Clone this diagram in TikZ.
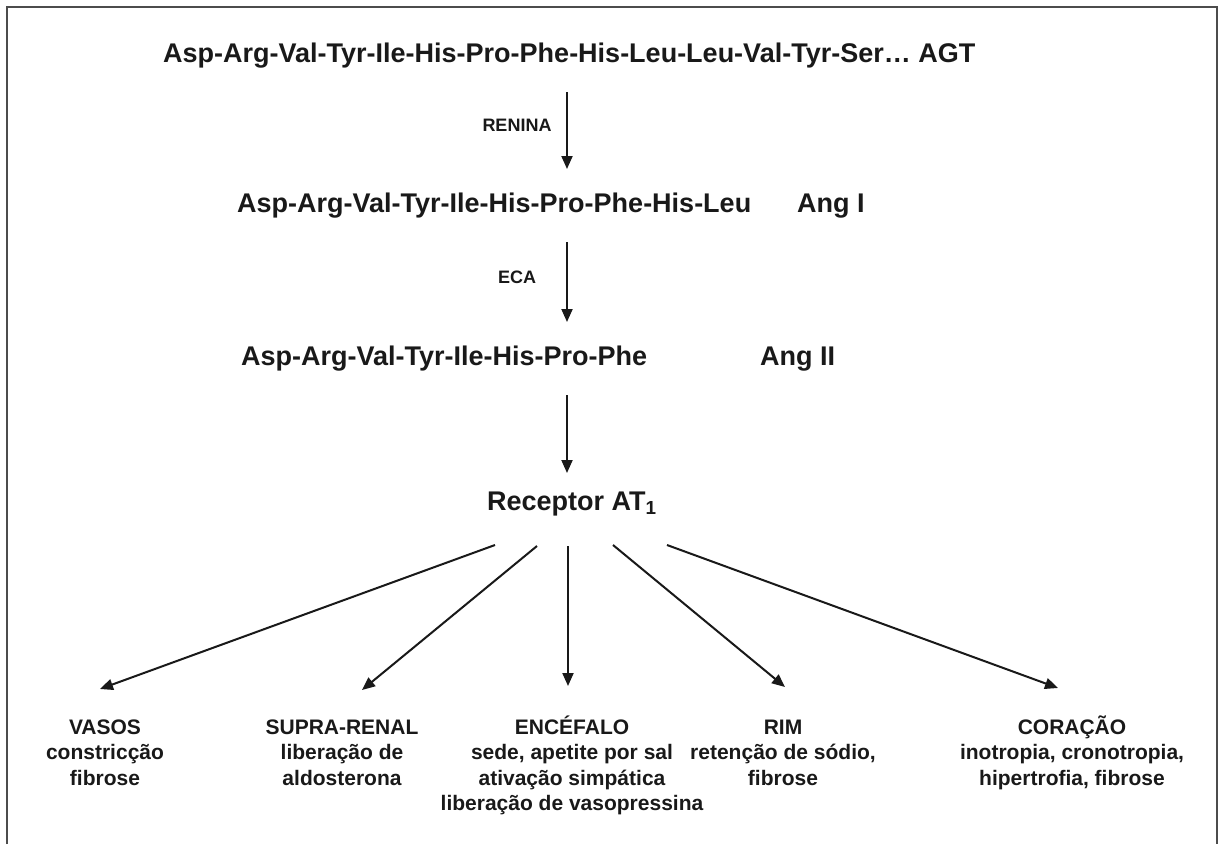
\documentclass[tikz,border=0pt]{standalone}
\usepackage{fontspec}
\setmainfont{Liberation Sans}
\usetikzlibrary{arrows.meta}
\begin{document}
\begin{tikzpicture}[x=1pt,y=-1pt,
  big/.style={font=\fontsize{27}{31}\selectfont\bfseries, inner sep=0pt, anchor=base west, text=black!90},
  enz/.style={font=\fontsize{18}{22}\selectfont\bfseries, inner sep=0pt, text=black!90},
  organ/.style={font=\fontsize{21}{25.5}\selectfont\bfseries, inner sep=0pt, align=center, anchor=base, text=black!90},
  arr/.style={-{Triangle[length=13pt,width=11pt]}, line width=2pt, draw=black!90}]
\useasboundingbox (0,0) rectangle (1219,844);
\draw[line width=2.8pt, draw=black!70] (7,844) -- (7,7) -- (1217,7) -- (1217,844);

\node[big] (agt) at (163,62) {Asp-Arg-Val-Tyr-Ile-His-Pro-Phe-His-Leu-Leu-Val-Tyr-Ser… AGT};
\node[big] (ang1p) at (237,212) {Asp-Arg-Val-Tyr-Ile-His-Pro-Phe-His-Leu};
\node[big] (ang1) at (797,212) {Ang I};
\node[big] (ang2p) at (241,365) {Asp-Arg-Val-Tyr-Ile-His-Pro-Phe};
\node[big] (ang2) at (760,365) {Ang II};
\node[big] (rec) at (487,510) {Receptor AT\textsubscript{1}};

\node[enz] (renina) at (517,125) {RENINA};
\node[enz] (eca) at (517,277) {ECA};

\coordinate (a1s) at (567,92);  \coordinate (a1e) at (567,169);
\coordinate (a2s) at (567,242); \coordinate (a2e) at (567,322);
\coordinate (a3s) at (567,395); \coordinate (a3e) at (567,473);
\draw[arr] (a1s) -- (a1e);
\draw[arr] (a2s) -- (a2e);
\draw[arr] (a3s) -- (a3e);

\coordinate (f1s) at (495,545); \coordinate (f1e) at (100,689);
\coordinate (f2s) at (537,546); \coordinate (f2e) at (362,690);
\coordinate (f3s) at (568,546); \coordinate (f3e) at (568,686);
\coordinate (f4s) at (613,545); \coordinate (f4e) at (785,687);
\coordinate (f5s) at (667,545); \coordinate (f5e) at (1058,688);
\foreach \i in {1,...,5} {\draw[arr] (f\i s) -- (f\i e);}

\node[organ] (vasos) at (105,785) {VASOS\\constricção\\fibrose};
\node[organ] (supra) at (342,785) {SUPRA-RENAL\\liberação de\\aldosterona};
\node[organ] (enc) at (572,810.5) {ENCÉFALO\\sede, apetite por sal\\ativação simpática\\liberação de vasopressina};
\node[organ] (rim) at (783,785) {RIM\\retenção de sódio,\\fibrose};
\node[organ] (cor) at (1072,785) {CORAÇÃO\\inotropia, cronotropia,\\hipertrofia, fibrose};
\end{tikzpicture}
\end{document}
